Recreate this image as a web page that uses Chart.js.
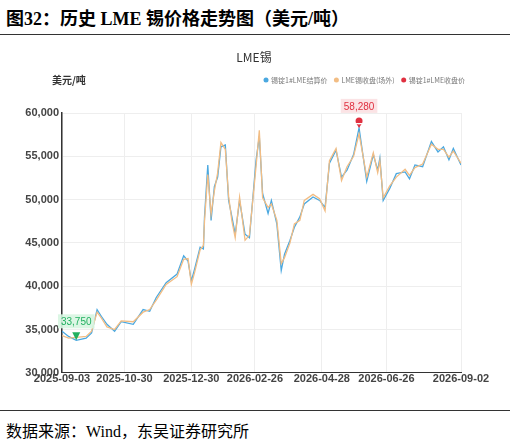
<!DOCTYPE html>
<html>
<head>
<meta charset="utf-8">
<script src="https://cdn.jsdelivr.net/npm/chart.js@4"></script>
<style>
  body { margin: 0; background: #fff; width: 510px; height: 445px; overflow: hidden; }
  #title { position: absolute; left: 6px; top: 4px; font: bold 18px "Liberation Serif", "Noto Sans CJK SC", serif; color: #000; }
  #topline { position: absolute; left: 0; top: 34px; width: 510px; border-top: 1.5px solid #333; }
  #wrap { position: absolute; left: 0; top: 40px; width: 510px; height: 360px; }
  #botline { position: absolute; left: 0; top: 410px; width: 510px; border-top: 1px solid #333; }
  #src { position: absolute; left: 6px; top: 418px; font: 16px "Liberation Serif", "Noto Sans CJK SC", serif; color: #000; }
</style>
</head>
<body>
<div id="title">图32：历史 LME 锡价格走势图（美元/吨）</div>
<div id="topline"></div>
<div id="wrap"><canvas id="c"></canvas></div>
<div id="botline"></div>
<div id="src">数据来源：Wind，东吴证券研究所</div>
<script>
// day offsets from 2025-09-03
const days = [0, 6, 13, 22, 27, 32, 36, 41, 48, 54, 65, 74, 80, 86, 95, 105, 111, 115, 118, 121, 126, 129, 130, 133, 136, 139, 142, 145, 149, 152, 155, 158, 162, 167, 171, 177, 180, 183, 188, 191, 196, 200, 203, 208, 212, 217, 221, 229, 235, 240, 244, 250, 255, 260, 266, 271, 273, 278, 284, 288, 290, 293, 299, 305, 313, 317, 322, 329, 337, 343, 348, 353, 357, 364];
const settlePrice = [34800, 34200, 33750, 34000, 34600, 37300, 36500, 35600, 34800, 35900, 35600, 37300, 37100, 38700, 40400, 41400, 43500, 42900, 40600, 42000, 44500, 44300, 48000, 54000, 47600, 51500, 52600, 56100, 56300, 49900, 48000, 46000, 49900, 46000, 45600, 54500, 57300, 50700, 48400, 49900, 47200, 41800, 43700, 45300, 46800, 48000, 49500, 50300, 49900, 49100, 54200, 55700, 52600, 53400, 55200, 58280, 56500, 52100, 55200, 53400, 54800, 49900, 51300, 53000, 53200, 52400, 54000, 53800, 56700, 55500, 56100, 54600, 55900, 54000];
const threeMonth = [34300, 34000, 34100, 34200, 34800, 37000, 36300, 35300, 35000, 36000, 35900, 37000, 37300, 38400, 40200, 41100, 43100, 43200, 40200, 41600, 44200, 44700, 47500, 52900, 48300, 51000, 53100, 56600, 55800, 50400, 47500, 45600, 50300, 45300, 45900, 53800, 58000, 50200, 49100, 49500, 47600, 42600, 43300, 45000, 47200, 47600, 49900, 50600, 50100, 48700, 54500, 55900, 52200, 53800, 55000, 57600, 56200, 52600, 55400, 53100, 54500, 50200, 51600, 52600, 53500, 52800, 53700, 54100, 56400, 55800, 55800, 54900, 55600, 54200];
const tickDays = [0, 57, 118, 176, 237, 296, 364];
const tickLabels = ["2025-09-03", "2025-10-30", "2025-12-30", "2026-02-26", "2026-04-28", "2026-06-26", "2026-09-02"];
const yTicks = [30000, 35000, 40000, 45000, 50000, 55000, 60000];
const maxIdx = 55, minIdx = 2;

const toXY = (arr) => arr.map((v, i) => ({ x: days[i], y: v }));

const annotate = {
  id: "annotate",
  afterDraw(chart) {
    const ctx = chart.ctx;
    const xs = chart.scales.x, ys = chart.scales.y;
    ctx.save();
    // unit + title
    ctx.fillStyle = "#333";
    ctx.font = "bold 10px 'Noto Sans CJK SC'";
    ctx.textAlign = "left";
    ctx.fillText("美元/吨", 52, 44);
    ctx.font = "12px 'Noto Sans CJK SC'";
    ctx.textAlign = "center";
    ctx.fillText("LME锡", 254, 22);
    // legend
    const items = [["#4aa8e0", "锡锭1#LME结算价"], ["#f2bd84", "LME锡收盘(场外)"], ["#e03040", "锡锭1#LME收盘价"]];
    let lx = 266;
    ctx.font = "7px 'Noto Sans CJK SC'";
    ctx.textAlign = "left";
    for (const [c, t] of items) {
      ctx.fillStyle = c;
      ctx.beginPath(); ctx.arc(lx, 40, 2.5, 0, Math.PI * 2); ctx.fill();
      ctx.fillStyle = "#777";
      ctx.fillText(t, lx + 5, 42.5);
      lx += ctx.measureText(t).width + 14;
    }
    // markers
    const mark = (idx, color, bg, up) => {
      const px = xs.getPixelForValue(days[idx]);
      const py = ys.getPixelForValue(settlePrice[idx]);
      ctx.fillStyle = color;
      ctx.beginPath();
      if (up) { ctx.arc(px, py - 7, 3.5, 0, Math.PI * 2); ctx.moveTo(px - 3, py - 5); ctx.lineTo(px, py); ctx.lineTo(px + 3, py - 5); }
      else { ctx.moveTo(px - 4, py - 8); ctx.lineTo(px + 4, py - 8); ctx.lineTo(px, py); }
      ctx.fill();
      const label = settlePrice[idx].toLocaleString("en-US");
      ctx.font = "10px 'Liberation Sans'";
      const w = ctx.measureText(label).width + 6;
      const ty = up ? py - 27 : py - 24;
      ctx.fillStyle = bg;
      ctx.fillRect(px - w / 2, ty - 2, w, 14);
      ctx.fillStyle = color;
      ctx.textAlign = "center";
      ctx.fillText(label, px, ty + 9);
    };
    mark(maxIdx, "#e03040", "rgba(250,220,222,0.8)", true);
    mark(minIdx, "#22b060", "rgba(215,245,225,0.9)", false);
    ctx.restore();
  },
};

new Chart(document.getElementById("c"), {
  type: "line",
  data: {
    datasets: [
      { data: toXY(threeMonth), borderColor: "#f2bd84", borderWidth: 1.3, pointRadius: 0, tension: 0 },
      { data: toXY(settlePrice), borderColor: "#4aa8e0", borderWidth: 1.3, pointRadius: 0, tension: 0 },
    ],
  },
  options: {
    animation: false,
    responsive: true,
    maintainAspectRatio: false,
    layout: { padding: { top: 73, right: 49, left: 0, bottom: 14 } },
    plugins: { legend: { display: false }, tooltip: { enabled: false } },
    scales: {
      x: {
        type: "linear",
        min: 0,
        max: 364,
        afterBuildTicks: (s) => { s.ticks = tickDays.map((v) => ({ value: v })); },
        ticks: {
          autoSkip: false,
          maxRotation: 0,
          color: "#444",
          font: { size: 11, weight: "bold", family: "'Liberation Sans'" },
          padding: 0,
          callback: (v) => tickLabels[tickDays.indexOf(v)],
        },
        grid: { color: "#eee", drawTicks: false },
        border: { color: "#333" },
      },
      y: {
        min: 30000,
        max: 60000,
        afterBuildTicks: (s) => { s.ticks = yTicks.map((v) => ({ value: v })); },
        afterFit: (s) => { s.width = 62; },
        ticks: {
          color: "#444",
          font: { size: 11, weight: "bold", family: "'Liberation Sans'" },
          padding: 3,
          callback: (v) => v.toLocaleString("en-US"),
        },
        grid: { color: "#eee", drawTicks: false },
        border: { color: "#333", width: 1.5 },
      },
    },
  },
  plugins: [annotate],
});
</script>
</body>
</html>
